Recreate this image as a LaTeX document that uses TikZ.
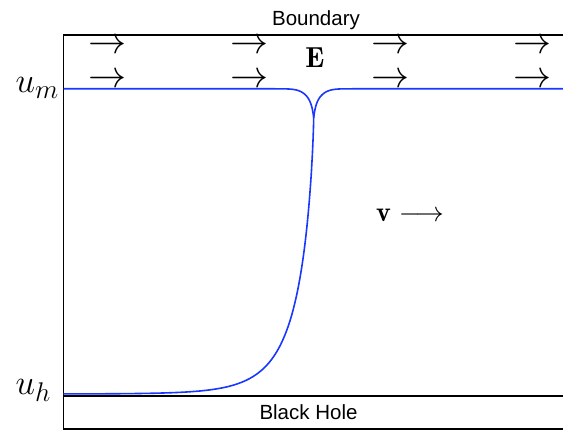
\RequirePackage{fix-cm}
\documentclass[tikz,border=0pt]{standalone}
\usepackage{fontspec}
\newfontfamily\labfont{Liberation Sans}
\DeclareMathSizes{35}{35}{27}{20}
\definecolor{curveblue}{RGB}{25,55,255}
\begin{document}
\begin{tikzpicture}[x=1pt,y=-1pt,
  frame/.style={line width=1.3pt,black},
  curve/.style={line width=1.6pt,color=curveblue},
  txt/.style={inner sep=0pt,anchor=base,font=\labfont\fontsize{20.5}{24}\selectfont},
  bigmath/.style={inner sep=0pt,anchor=base,font=\fontsize{35}{40}\selectfont},
  arrmath/.style={inner sep=0pt,anchor=base,text height=14pt,text depth=0pt,font=\fontsize{38}{42}\selectfont},
  midmath/.style={inner sep=0pt,anchor=base,font=\fontsize{29}{33}\selectfont}]
\useasboundingbox (0,0) rectangle (563,430);
% frame
\coordinate (TL) at (63.5,35);
\coordinate (TR) at (563,35);
\coordinate (BL) at (63.5,429);
\coordinate (BR) at (563,429);
\coordinate (HL) at (63.5,396);
\coordinate (HR) at (563,396);
\draw[frame] (TR) -- (TL) -- (BL) -- (BR);
\draw[frame] (HL) -- (HR);
% top line with dip
\coordinate (ML) at (63.5,88.8);
\coordinate (MR) at (563,88.8);
\draw[curve] (ML) -- plot[domain=6.32:0,samples=90,variable=\t]
  ({313.7-\t*\t},{88.8+29/(1+\t*\t/3.3)*exp(-(\t*\t/15)^2)});
\draw[curve] plot[domain=0:6.32,samples=90,variable=\t]
  ({313.7+\t*\t},{88.8+29/(1+\t*\t/3.3)*exp(-(\t*\t/15)^2)}) -- (MR);
% main curve
\coordinate (HE) at (63.5,394);
\draw[curve] plot[domain=0.02:15.81,samples=160,variable=\t]
  ({313.7-\t*\t},{394-276*exp(-(\t*\t/16.5)^0.78)}) -- (HE);
% labels
\node[txt] (bnd) at (316,26) {Boundary};
\node[txt] (bh) at (308.5,420) {Black Hole};
\node[bigmath,anchor=base east] (um) at (59,93) {$u_m$};
\node[bigmath,anchor=base east] (uh) at (51,395) {$u_h$};
\node[midmath] (E) at (315,68) {$\mathbf{E}$};
\node[midmath,font=\fontsize{28}{32}\selectfont,anchor=base west] (v) at (376,221.7) {$\mathbf{v}\longrightarrow$};
% field arrows
\foreach \cx [count=\i] in {107,249,390.5,532}{
  \node[arrmath] (a1\i) at (\cx,54) {$\rightarrow$};
  \node[arrmath] (a2\i) at (\cx,87.5) {$\rightarrow$};
}
\end{tikzpicture}
\end{document}
